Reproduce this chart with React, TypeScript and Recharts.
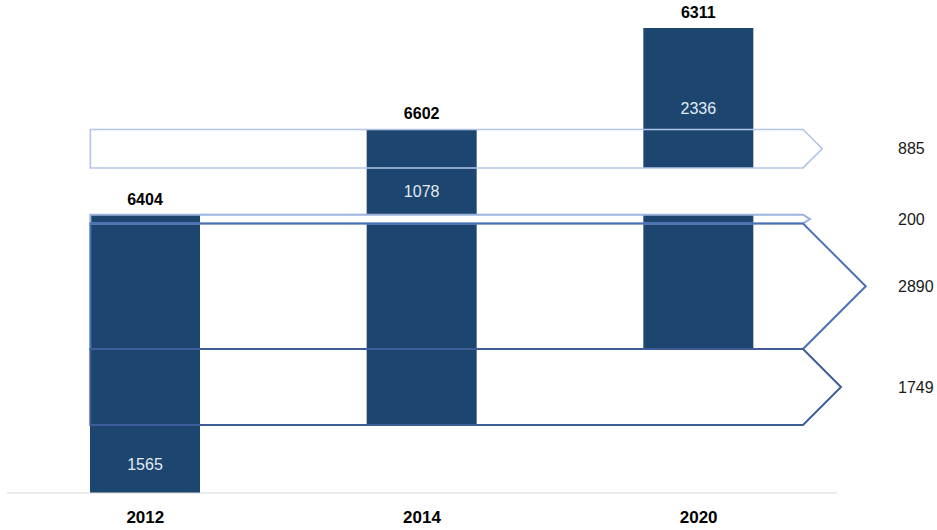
import React from 'react';
import { Bar, BarChart, Cell, LabelList, ReferenceArea, XAxis, YAxis } from 'recharts';

const years = ['2012', '2014', '2020'];
// stacked segment values, bottom to top
const segmentValues = [1565, 1749, 2890, 200, 1078, 885, 2336];
// which segments are filled in each year's column
const filled2012 = [1, 1, 1, 1, 0, 0, 0];
const filled2014 = [0, 1, 1, 0, 1, 1, 0];
const filled2020 = [0, 0, 1, 1, 0, 1, 1];
const yearTotals = [6404, 6602, 6311];
// segment whose value is written inside each column
const innerLabelSegment = [0, 4, 6];
// segments drawn as arrows across the chart, value written at the right
const arrowSegments = [5, 3, 2, 1];

const FONT = '"Liberation Sans", Arial, sans-serif';
const BAR = '#1c466f';
const BAR_SIZE = 110;
const ARROW_STROKE: Record<number, [string, number]> = {
  5: ['#b2c5e6', 1.6],
  3: ['#9ab3dc', 2],
  2: ['#4a70b5', 2],
  1: ['#3d5c98', 2],
};
const innerLabelFrac = [0.58, 0.5, 0.79];
// arrow body starts at the first column's left edge and stops short of the plot's right edge
const ARROW_END_INSET = 34;

const filled = [filled2012, filled2014, filled2020];
const levels = segmentValues.map((_, i) => segmentValues.slice(0, i).reduce((a, b) => a + b, 0));
const total = segmentValues.reduce((a, b) => a + b, 0);

const rows = years.map((year) => {
  const r: Record<string, string | number> = { year };
  segmentValues.forEach((v, i) => (r[`s${i}`] = v));
  return r;
});

const topSegment = filled.map((f) => f.lastIndexOf(1));

function segmentLabel(seg: number) {
  return (p: any) => {
    const vb = p.viewBox ?? p;
    const { x, y, width, height } = vb;
    const yi = p.index;
    const cx = x + width / 2;
    return (
      <g>
        {topSegment[yi] === seg && (
          <text x={cx} y={y - 10} textAnchor="middle" fontSize={16} fontWeight={700} fill="#000" fontFamily={FONT}>
            {yearTotals[yi]}
          </text>
        )}
        {innerLabelSegment[yi] === seg && (
          <text
            x={cx}
            y={y + height * innerLabelFrac[yi]}
            textAnchor="middle"
            dominantBaseline="central"
            fontSize={16}
            fill="#e4eaf2"
            fontFamily={FONT}
          >
            {segmentValues[seg]}
          </text>
        )}
      </g>
    );
  };
}

function Arrow(p: any) {
  const { x, y, width, height, color, sw, value } = p;
  const band = width / years.length;
  const l = x + (band - BAR_SIZE) / 2;
  const r = x + width - ARROW_END_INSET;
  const d = Math.max(height / 2, 7);
  return (
    <g>
      <path
        d={`M${l},${y} L${r},${y} L${r + d},${y + height / 2} L${r},${y + height} L${l},${y + height} Z`}
        fill="none"
        stroke={color}
        strokeWidth={sw}
      />
      <text x={r + 95} y={y + height / 2} dominantBaseline="central" fontSize={16} fill="#1a1a1a" fontFamily={FONT}>
        {value}
      </text>
    </g>
  );
}

export default function App() {
  return (
    <div style={{ position: 'absolute', left: 0, top: 0, background: '#fff' }}>
      <BarChart width={937} height={530} data={rows} margin={{ top: 28, right: 100, bottom: 7, left: 7 }}>
        <XAxis
          dataKey="year"
          axisLine={{ stroke: '#d9d9d9' }}
          tickLine={false}
          tickMargin={12}
          height={30}
          tick={{ fill: '#000', fontSize: 17, fontWeight: 700, fontFamily: FONT }}
        />
        <YAxis hide type="number" domain={[0, total]} />
        {segmentValues.map((_, i) => (
          <Bar key={i} dataKey={`s${i}`} stackId="col" barSize={BAR_SIZE} isAnimationActive={false}>
            {years.map((y, yi) => (
              <Cell key={y} fill={filled[yi][i] ? BAR : 'transparent'} />
            ))}
            <LabelList content={segmentLabel(i)} />
          </Bar>
        ))}
        {arrowSegments.map((si) => (
          <ReferenceArea
            key={si}
            y1={levels[si]}
            y2={levels[si] + segmentValues[si]}
            ifOverflow="visible"
            zIndex={350}
            shape={(p: any) => (
              <Arrow {...p} color={ARROW_STROKE[si][0]} sw={ARROW_STROKE[si][1]} value={segmentValues[si]} />
            )}
          />
        ))}
      </BarChart>
    </div>
  );
}
